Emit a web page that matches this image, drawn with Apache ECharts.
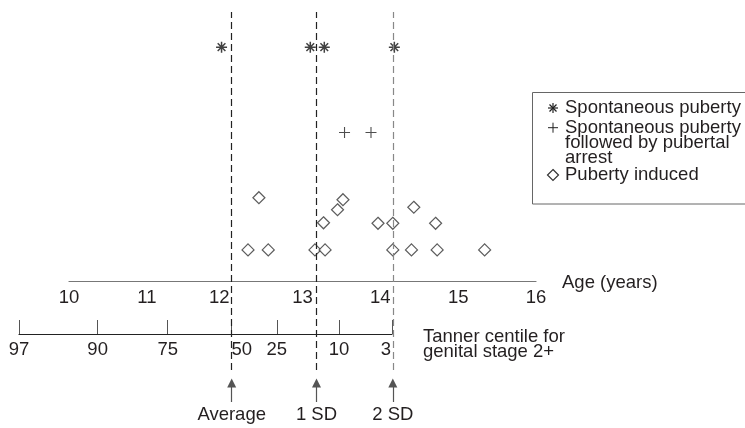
<!DOCTYPE html>
<html>
<head>
<meta charset="utf-8">
<script src="https://cdn.jsdelivr.net/npm/echarts@6/dist/echarts.min.js"></script>
<style>
  html, body { margin: 0; padding: 0; background: #fff; }
  #chart { width: 745px; height: 428px; }
</style>
</head>
<body>
<div id="chart"></div>
<script>
// age ticks on the main axis (years)
const ageTicks = [10, 11, 12, 13, 14, 15, 16];

// Tanner centiles, and where each sits on the age scale
const centileLabels = ['97', '90', '75', '50', '25', '10', '3'];
const centileAges = [9.36, 10.37, 11.27, 12.08, 12.67, 13.47, 14.15];

// reference lines (age)
const refLabels = ['Average', '1 SD', '2 SD'];
const refAges = [12.09, 13.18, 14.16];

// [age, stack level]
const spontaneous = [[11.96, 23.3], [13.10, 23.3], [13.28, 23.3], [14.18, 23.3]];
const arrested = [[13.54, 14.8], [13.88, 14.8]];
const induced = [
  [12.44, 8.3], [13.52, 8.1], [13.45, 7.1], [13.27, 5.8], [13.97, 5.75],
  [14.16, 5.75], [14.43, 7.35], [14.71, 5.75],
  [12.30, 3.1], [12.56, 3.1], [13.16, 3.1], [13.29, 3.1], [14.16, 3.1],
  [14.40, 3.1], [14.73, 3.1], [15.34, 3.1]
];

const FONT = "'Liberation Sans', Arial, sans-serif";
const FS = 18.5;
const TXT = '#231f20';
const starPath = 'path://M5,0L5,10M0,5L10,5M1.5,1.5L8.5,8.5M8.5,1.5L1.5,8.5';
const plusPath = 'path://M5,0L5,10M0,5L10,5';

const chart = echarts.init(document.getElementById('chart'), null, { renderer: 'canvas' });

const hidden = { show: false };

// small helper for legend glyph strokes
const seg = (x1, y1, x2, y2, w) => ({
  type: 'line', silent: true,
  shape: { x1, y1, x2, y2 },
  style: { stroke: '#222', lineWidth: w }
});
const lx = 553, ly1 = 108, ly2 = 127.7;

const option = {
  animation: false,
  backgroundColor: '#fff',
  textStyle: { fontFamily: FONT, color: TXT },
  grid: [
    { left: 69, right: 209, top: 0, bottom: 147 },      // scatter + age axis
    { left: 19, width: 373, top: 300, bottom: 94 },      // centile axis
    { left: 69, right: 209, top: 12, bottom: 58 },       // dashed reference lines
    { left: 69, right: 209, top: 383, bottom: 26 }       // arrows
  ],
  xAxis: [
    {
      gridIndex: 0, type: 'value', min: 10, max: 16, interval: 1,
      axisLine: { lineStyle: { color: '#777', width: 1.2 } },
      axisTick: hidden, splitLine: hidden,
      axisLabel: {
        margin: 7, fontSize: FS, color: TXT, fontFamily: FONT,
        formatter: v => v === 12 ? '{s|12}' : String(v),
        rich: { s: { fontSize: FS, color: TXT, fontFamily: FONT, padding: [0, 11, 0, 0] } }
      },
      name: 'Age (years)', nameLocation: 'end', nameGap: 26,
      nameTextStyle: { fontSize: FS, color: TXT, fontFamily: FONT, align: 'left', verticalAlign: 'top', padding: [-8, 0, 0, 0] }
    },
    {
      gridIndex: 1, type: 'value', min: centileAges[0], max: centileAges[centileAges.length - 1],
      axisLine: { lineStyle: { color: '#222', width: 1.2 } },
      axisTick: { inside: true, length: 14, customValues: centileAges, lineStyle: { color: '#555', width: 1 } },
      splitLine: hidden,
      axisLabel: {
        margin: 6, fontSize: FS, color: TXT, fontFamily: FONT, customValues: centileAges,
        formatter: v => {
          const i = centileAges.findIndex(a => Math.abs(a - v) < 1e-6);
          const t = i < 0 ? '' : centileLabels[i];
          if (t === '50') return '{r|50}';
          if (t === '3') return '{l|3}';
          return t;
        },
        rich: {
          r: { fontSize: FS, color: TXT, fontFamily: FONT, padding: [0, 0, 0, 22] },
          l: { fontSize: FS, color: TXT, fontFamily: FONT, padding: [0, 12, 0, 0] }
        }
      }
    },
    { gridIndex: 2, type: 'value', min: 10, max: 16, show: false },
    { gridIndex: 3, type: 'value', min: 10, max: 16, show: false }
  ],
  yAxis: [
    { gridIndex: 0, type: 'value', min: 0, max: 28, show: false },
    { gridIndex: 1, type: 'value', min: 0, max: 1, show: false },
    { gridIndex: 2, type: 'value', min: 0, max: 1, show: false },
    { gridIndex: 3, type: 'value', min: 0, max: 1, show: false }
  ],
  series: [
    {
      name: 'Spontaneous puberty', type: 'scatter', xAxisIndex: 0, yAxisIndex: 0,
      data: spontaneous, symbol: starPath, symbolSize: 11,
      itemStyle: { color: '#111', borderColor: '#111', borderWidth: 1.5 }
    },
    {
      name: 'Spontaneous puberty followed by pubertal arrest', type: 'scatter', xAxisIndex: 0, yAxisIndex: 0,
      data: arrested, symbol: plusPath, symbolSize: 11,
      itemStyle: { color: '#222', borderColor: '#222', borderWidth: 1.1 }
    },
    {
      name: 'Puberty induced', type: 'scatter', xAxisIndex: 0, yAxisIndex: 0,
      data: induced, symbol: 'diamond', symbolSize: 12,
      itemStyle: { color: '#fff', borderColor: '#333', borderWidth: 1.2 }
    },
    {
      type: 'line', xAxisIndex: 2, yAxisIndex: 2, data: [], silent: true,
      markLine: {
        silent: true, symbol: ['none', 'none'], label: { show: false },
        data: refAges.map((a, i) => ({
          xAxis: a,
          lineStyle: { color: i === 2 ? '#888' : '#222', type: [7, 4], width: 1.2 }
        }))
      }
    },
    {
      type: 'line', xAxisIndex: 3, yAxisIndex: 3, data: [], silent: true,
      markLine: {
        silent: true, symbol: ['none', 'triangle'], symbolSize: 9,
        lineStyle: { color: '#555', type: 'solid', width: 1.2 },
        itemStyle: { color: '#222' },
        label: {
          show: true, position: 'start', distance: 3, fontSize: FS, color: TXT, fontFamily: FONT,
          formatter: p => refLabels[p.dataIndex]
        },
        data: refAges.map(a => [{ coord: [a, 0] }, { coord: [a, 1] }])
      }
    }
  ],
  graphic: [
    {
      type: 'text', silent: true, x: 423, y: 329.2,
      style: { text: 'Tanner centile for\ngenital stage 2+', font: FS + 'px ' + FONT, fill: TXT, lineHeight: 15, verticalAlign: 'top' }
    },
    {
      type: 'rect', silent: true,
      shape: { x: 532.5, y: 92.5, width: 240, height: 111.5 },
      style: { fill: 'none', stroke: '#666', lineWidth: 1 }
    },
    seg(lx - 5, ly1, lx + 5, ly1, 1.2),
    seg(lx, ly1 - 5, lx, ly1 + 5, 1.2),
    seg(lx - 3.5, ly1 - 3.5, lx + 3.5, ly1 + 3.5, 1.2),
    seg(lx - 3.5, ly1 + 3.5, lx + 3.5, ly1 - 3.5, 1.2),
    seg(lx - 5, ly2, lx + 5, ly2, 1),
    seg(lx, ly2 - 5, lx, ly2 + 5, 1),
    {
      type: 'polygon', silent: true,
      shape: { points: [[553, 169.5], [558.5, 175], [553, 180.5], [547.5, 175]] },
      style: { fill: '#fff', stroke: '#333', lineWidth: 1.2 }
    },
    {
      type: 'text', silent: true, x: 565, y: 108,
      style: { text: 'Spontaneous puberty', font: FS + 'px ' + FONT, fill: TXT, verticalAlign: 'middle' }
    },
    {
      type: 'text', silent: true, x: 565, y: 120.2,
      style: { text: 'Spontaneous puberty\nfollowed by pubertal\narrest', font: FS + 'px ' + FONT, fill: TXT, lineHeight: 15, verticalAlign: 'top' }
    },
    {
      type: 'text', silent: true, x: 565, y: 175,
      style: { text: 'Puberty induced', font: FS + 'px ' + FONT, fill: TXT, verticalAlign: 'middle' }
    }
  ]
};

chart.setOption(option);
</script>
</body>
</html>
